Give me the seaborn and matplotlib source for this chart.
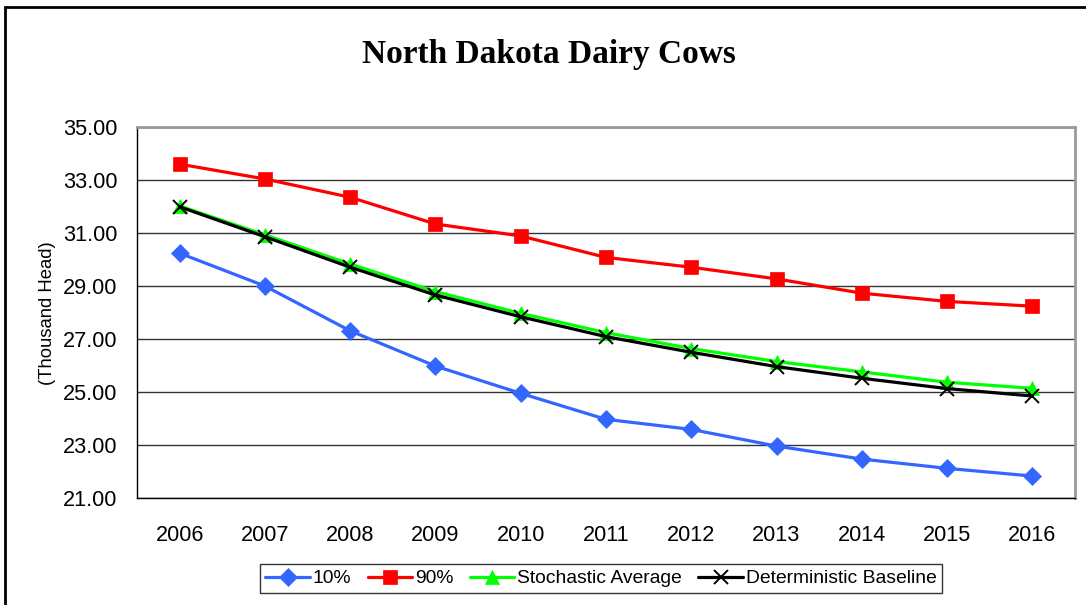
import pandas as pd
import matplotlib
matplotlib.use('Agg')
import matplotlib.pyplot as plt
import seaborn as sns
from matplotlib.patches import Rectangle

# Chart data
years = [2006, 2007, 2008, 2009, 2010, 2011, 2012, 2013, 2014, 2015, 2016]
p10 = [30.25, 29.01, 27.32, 25.99, 24.96, 23.98, 23.60, 22.97, 22.48, 22.13, 21.84]
p90 = [33.61, 33.05, 32.36, 31.35, 30.90, 30.09, 29.72, 29.28, 28.74, 28.43, 28.25]
stoch_avg = [32.03, 30.94, 29.84, 28.80, 27.98, 27.25, 26.65, 26.16, 25.77, 25.38, 25.15]
det_base = [32.00, 30.87, 29.72, 28.67, 27.85, 27.10, 26.51, 25.97, 25.53, 25.14, 24.86]
series_names = ['10%', '90%', 'Stochastic Average', 'Deterministic Baseline']
yticks = [21, 23, 25, 27, 29, 31, 33, 35]

df = pd.concat([
    pd.DataFrame({'Year': years, 'Value': vals, 'Series': name})
    for name, vals in zip(series_names, [p10, p90, stoch_avg, det_base])
], ignore_index=True)

sns.set_style('white')
plt.rcParams['font.family'] = ['Liberation Sans', 'DejaVu Sans']
plt.rcParams.update({'text.color': 'black', 'axes.labelcolor': 'black',
                     'xtick.color': 'black', 'ytick.color': 'black'})

palette = {'10%': '#3366FF', '90%': '#FF0000',
           'Stochastic Average': '#00FF00', 'Deterministic Baseline': '#000000'}
# seaborn won't mix filled and line markers, so the 'x' is swapped in afterwards
markers = {'10%': 'D', '90%': 's', 'Stochastic Average': '^', 'Deterministic Baseline': 'o'}
real_markers = {'10%': 'D', '90%': 's', 'Stochastic Average': '^', 'Deterministic Baseline': 'x'}

fig = plt.figure(figsize=(10.86, 6.05), dpi=100)
ax = fig.add_axes([137 / 1086, 1 - 498.3 / 605, (1075 - 137) / 1086, (498.3 - 127.3) / 605])

sns.lineplot(data=df, x='Year', y='Value', hue='Series', style='Series',
             hue_order=series_names, style_order=series_names,
             palette=palette, markers=markers, dashes=False,
             linewidth=2.3, markersize=9, legend=False, ax=ax)

sizes = {'10%': 9, '90%': 10, 'Stochastic Average': 10, 'Deterministic Baseline': 10}
for line, name in zip(ax.lines, series_names):
    line.set_marker(real_markers[name])
    line.set_markeredgecolor(line.get_color())
    line.set_markerfacecolor(line.get_color())
    line.set_markersize(sizes[name])
    line.set_markeredgewidth(1.4 if name == 'Deterministic Baseline' else 0.5)

# axes styling (Excel-like)
ax.set_xlim(2005.5, 2016.5)
ax.set_ylim(21, 35)
ax.set_yticks(yticks)
ax.set_yticklabels([f'{v:.2f}' for v in yticks])
ax.set_xticks(years)
ax.set_xticklabels([str(y) for y in years])
ax.set_xticks([y + 0.5 for y in [2005] + years], minor=True)
ax.tick_params(axis='x', which='major', length=0, pad=19, labelsize=15.6)
ax.tick_params(axis='x', which='minor', length=6, width=1, color='black', direction='out')
ax.tick_params(axis='y', length=7, width=1, color='black', direction='out', pad=7, labelsize=15.6)
ax.grid(axis='y', color='#333333', linewidth=1)
ax.set_axisbelow(True)
for side in ['top', 'right']:
    ax.spines[side].set_color('#999999')
    ax.spines[side].set_linewidth(2)
for side in ['left', 'bottom']:
    ax.spines[side].set_color('black')
    ax.spines[side].set_linewidth(1)
ax.set_xlabel('')
ax.set_ylabel('(Thousand Head)', fontsize=13.3, labelpad=5)

fig.text(549 / 1086, 1 - 55 / 605, 'North Dakota Dairy Cows', ha='center', va='center',
         fontsize=24, fontweight='bold', color='black', family=['Liberation Serif', 'DejaVu Serif'])

leg = fig.legend(ax.lines, series_names, loc='center', bbox_to_anchor=(601 / 1086, 1 - 578.5 / 605),
                 ncol=4, frameon=True, fancybox=False, fontsize=13.9, handlelength=2.3,
                 handletextpad=0.15, columnspacing=0.85, borderpad=0.3, borderaxespad=0)
leg.get_frame().set_edgecolor('black')
leg.get_frame().set_linewidth(1)

# outer chart frame (only top/left visible in the reference)
fig.patches.append(Rectangle((5 / 1086, -0.05), 1.2, 1 - 7 / 605 + 0.05,
                             transform=fig.transFigure, fill=False,
                             edgecolor='black', linewidth=2))

fig.savefig('out.png', dpi=100)
